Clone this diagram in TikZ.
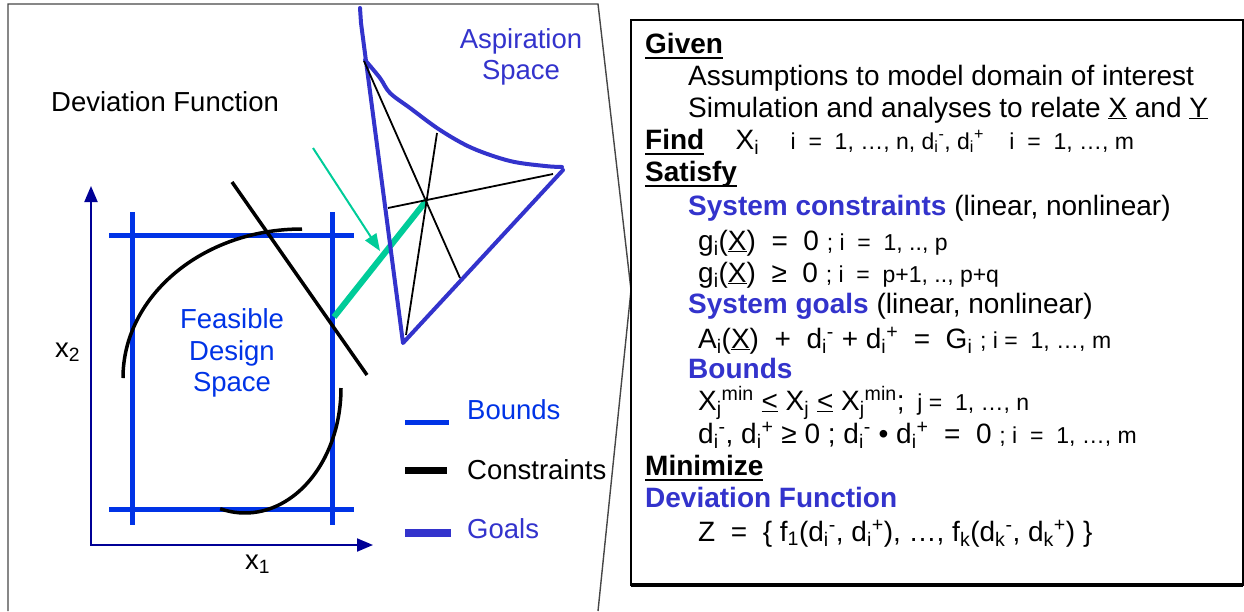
\documentclass[tikz,border=0pt]{standalone}
\usepackage{fontspec}
\setmainfont{Liberation Sans}
\usepackage{xcolor}
\usepackage{tikz}
\usetikzlibrary{positioning,arrows.meta}
\definecolor{BoundBlue}{RGB}{0,51,230}
\definecolor{GoalBlue}{RGB}{51,51,204}
\definecolor{AxisBlue}{RGB}{0,0,150}
\definecolor{AimGreen}{RGB}{0,204,153}
\definecolor{FrameGray}{RGB}{70,70,70}
\newcommand{\bigtxt}{\fontsize{27.5}{31.5}\selectfont}
\newcommand{\boxtxt}{\fontsize{28}{32}\selectfont}
\newcommand{\smtxt}{\fontsize{23}{26}\selectfont}
\newcommand{\hd}[1]{\textbf{\setbox0\hbox{#1}\rlap{\rule[-6pt]{\wd0}{2.4pt}}\box0}}
\newcommand{\devd}[2]{d\textsubscript{#1}\textsuperscript{#2}}

\begin{document}
\begin{tikzpicture}[x=1pt,y=-1pt,
bound/.style={draw=BoundBlue,line width=5pt},
constr/.style={draw=black,line width=3.5pt},
goal/.style={draw=GoalBlue,line width=4pt,line cap=round,line join=round},
ray/.style={draw=black,line width=1.8pt},
axis/.style={draw=AxisBlue,line width=2pt},
panel/.style={draw=FrameGray,line width=1.4pt},
lbl/.style={inner sep=0pt,align=center,font=\bigtxt},
txt/.style={inner sep=0pt,anchor=base west,font=\boxtxt}
]
\useasboundingbox (0,0) rectangle (1244,611);

\coordinate (kink) at (631,290);
\draw[panel] (8,611) -- (8,4) -- (598,4) -- (kink) -- (598,611);

\coordinate (org) at (91,545);
\coordinate (ytip) at (91,186);
\coordinate (xtip) at (373,545);
\draw[axis,{Triangle[length=16pt,width=13pt]}-{Triangle[length=16pt,width=13pt]}] (ytip) -- (org) -- (xtip);

\foreach \x in {132,332} \draw[bound] (\x,212) -- (\x,525);
\foreach \y in {235,509} \draw[bound] (109,\y) -- (354,\y);

\draw[constr] (123,378) arc[start angle=180,end angle=90,x radius=179pt,y radius=149pt];
\draw[constr] (341,388) arc[start angle=0,end angle=-105,x radius=96pt,y radius=125pt];
\draw[constr] (232,182) -- (367,375);

\coordinate (ctr) at (426,201);
\coordinate (gtop) at (360,8);
\coordinate (gjoin) at (365,60);
\coordinate (gbot) at (403,343);
\coordinate (gright) at (563,170);
\draw[AimGreen,line width=6pt] (334,317) -- (ctr);
\draw[AimGreen,line width=2pt,-{Triangle[length=17pt,width=13pt]}] (313,148) -- (380,251);
\draw[goal] (gtop) -- (361,23) -- (gbot) -- (gright);
\draw[goal] plot[smooth,tension=0.55] coordinates {(gjoin) (380,78) (390,93) (410,108) (440,130) (472,148) (510,161) (545,166) (562,167)};
\draw[ray] (364,61) -- (460,278);
\draw[ray] (437,133) -- (406,335);
\draw[ray] (388,208) -- (553,174);

\node[lbl,anchor=base west] (devtitle) at (51,111) {Deviation Function};
\node[lbl,text=GoalBlue] (asp) at (521,57) {Aspiration\\Space};
\node[lbl,text=BoundBlue] (feas) at (232,353) {Feasible\\Design\\Space};
\node[lbl,anchor=base west] (xtwo) at (55,357) {x\textsubscript{2}};
\node[lbl,anchor=base west] (xone) at (245,569) {x\textsubscript{1}};

\draw[BoundBlue,line width=5pt] (405,422) -- (449,422);
\draw[black,line width=7pt] (405,470) -- (447,470);
\draw[GoalBlue,line width=8pt] (405,533) -- (451,533);
\node[lbl,anchor=base west,text=BoundBlue] (legb) at (467,419) {Bounds};
\node[lbl,anchor=base west] (legc) at (467,479) {Constraints};
\node[lbl,anchor=base west,text=GoalBlue] (legg) at (467,538) {Goals};

\draw[black,line width=2pt] (631,20) rectangle (1243,585);
\draw[black,line width=3.5pt] (631,585) -- (1243,585);
\node[txt] (given) at (645,53) {\hd{Given}};
\node[txt] (assume) at (688,85) {Assumptions to model domain of interest};
\node[txt] (simul) at (688,117) {Simulation and analyses to relate \underline{X} and \underline{Y}};
\node[txt] (find) at (645,149) {\hd{Find}};
\node[txt,right=31pt of find.base east,anchor=base west] (findx) {X\textsubscript{i}};
\node[txt,font=\smtxt,right=31pt of findx.base east,anchor=base west] (findidx) {i~~=~~1,~…,~n,~\devd{i}{-},~\devd{i}{+}~~~~i~~=~~1,~…,~m};
\node[txt] (satisfy) at (645,181) {\hd{Satisfy}};
\node[txt] (sysc) at (688,215) {\textcolor{GoalBlue}{\textbf{System constraints}} (linear, nonlinear)};
\node[txt] (geq) at (698,250) {g\textsubscript{i}(\underline{X})~~=~~0~{\smtxt;~i~~=~~1,~..,~p}};
\node[txt] (gge) at (698,282) {g\textsubscript{i}(\underline{X})~~≥~~0~{\smtxt;~i~~=~~p+1,~..,~p+q}};
\node[txt] (sysg) at (688,313) {\textcolor{GoalBlue}{\textbf{System goals}} (linear, nonlinear)};
\node[txt] (goaleq) at (698,348) {A\textsubscript{i}(\underline{X})~~+~~\devd{i}{-}~+~\devd{i}{+}~~=~~G\textsubscript{i}~{\smtxt;~i~=~~1,~…,~m}};
\node[txt,text=GoalBlue] (bnds) at (688,378) {\textbf{Bounds}};
\node[txt] (xbnd) at (698,410) {X\textsubscript{j}\textsuperscript{min}~\underline{<}~X\textsubscript{j}~\underline{<}~X\textsubscript{j}\textsuperscript{min};{\smtxt~~j~=~~1,~…,~n}};
\node[txt] (dbnd) at (698,443) {\devd{i}{-},~\devd{i}{+}~≥~0~;~\devd{i}{-}~•~\devd{i}{+}~~=~~0~{\smtxt;~i~~=~~1,~…,~m}};
\node[txt] (minim) at (645,475) {\hd{Minimize}};
\node[txt,text=GoalBlue] (devf) at (645,507) {\textbf{Deviation Function}};
\node[txt] (zfun) at (698,541) {Z~~=~~\{~f\textsubscript{1}(\devd{i}{-},~\devd{i}{+}),~…,~f\textsubscript{k}(\devd{k}{-},~\devd{k}{+})~\}};
\end{tikzpicture}
\end{document}
